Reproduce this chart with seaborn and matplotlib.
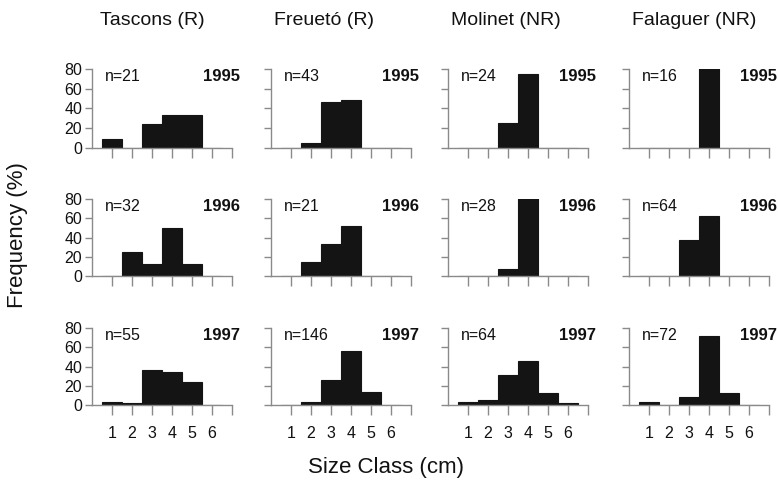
import matplotlib
matplotlib.use("Agg")
import matplotlib.pyplot as plt
import seaborn as sns
import pandas as pd

# ---------------- data ----------------
sites = ["Tascons (R)", "Freuetó (R)", "Molinet (NR)", "Falaguer (NR)"]
years = ["1995", "1996", "1997"]
size_classes = [1, 2, 3, 4, 5, 6]
x_tick_labels = ["1", "2", "3", "4", "5", "6", ""]
y_ticks = [0, 20, 40, 60, 80]

tascons_1995 = [9.5, 0, 23.8, 33.3, 33.3, 0]
tascons_1996 = [0, 25.0, 12.5, 50.0, 12.5, 0]
tascons_1997 = [3.6, 1.8, 36.4, 34.5, 23.6, 0]

freueto_1995 = [0, 4.7, 46.5, 48.8, 0, 0]
freueto_1996 = [0, 14.3, 33.3, 52.4, 0, 0]
freueto_1997 = [0, 3.4, 25.6, 56.2, 14.0, 0]

molinet_1995 = [0, 0, 25.0, 75.0, 0, 0]
molinet_1996 = [0, 0, 7.1, 92.9, 0, 0]
molinet_1997 = [3.1, 4.7, 31.3, 45.3, 12.5, 1.6]

falaguer_1995 = [0, 0, 0, 100.0, 0, 0]
falaguer_1996 = [0, 0, 37.5, 62.5, 0, 0]
falaguer_1997 = [3.5, 0, 8.3, 72.2, 12.5, 0]

tascons_n = [21, 32, 55]
freueto_n = [43, 21, 146]
molinet_n = [24, 28, 64]
falaguer_n = [16, 64, 72]

site_values = [
    [tascons_1995, tascons_1996, tascons_1997],
    [freueto_1995, freueto_1996, freueto_1997],
    [molinet_1995, molinet_1996, molinet_1997],
    [falaguer_1995, falaguer_1996, falaguer_1997],
]
site_n = [tascons_n, freueto_n, molinet_n, falaguer_n]

# ---------------- style ----------------
sns.set_theme(style="white")
plt.rcParams["font.family"] = ["Liberation Sans", "DejaVu Sans"]
axis_col = "#8a8a8a"
bar_col = "#141414"

W, H = 778, 486
fig = plt.figure(figsize=(W / 100, H / 100), dpi=100)
fig.patch.set_facecolor("white")

col_left = [92, 271, 448, 629]
ax_w = 140
row_top = [69, 199, 328]
row_bot = [148, 276, 405]

for c, site in enumerate(sites):
    for r, yr in enumerate(years):
        l = col_left[c] / W
        b = 1 - row_bot[r] / H
        h = (row_bot[r] - row_top[r]) / H
        ax = fig.add_axes([l, b, ax_w / W, h])
        df = pd.DataFrame({"size": size_classes, "freq": site_values[c][r]})
        sns.histplot(data=df, x="size", weights="freq", discrete=True, shrink=1.0,
                     color=bar_col, edgecolor=bar_col, linewidth=0.8, alpha=1.0,
                     ax=ax)
        ax.set_xlim(0, 7)
        ax.set_ylim(0, 80)
        ax.set_xlabel("")
        ax.set_ylabel("")
        ax.set_xticks(range(1, 8))
        ax.set_yticks(y_ticks)
        for s in ["top", "right"]:
            ax.spines[s].set_visible(False)
        for s in ["left", "bottom"]:
            ax.spines[s].set_color(axis_col)
            ax.spines[s].set_linewidth(1.0)
        ax.tick_params(axis="both", which="both", direction="out", color=axis_col,
                       width=1.0, labelsize=11.5, labelcolor="#111111",
                       bottom=True, left=True)
        ax.tick_params(axis="x", length=7, pad=8)
        ax.tick_params(axis="y", length=5, pad=2)
        ax.set_facecolor("none")
        if r == 2:
            ax.set_xticklabels(x_tick_labels)
        else:
            ax.set_xticklabels([])
        if c == 0:
            ax.set_yticklabels([str(v) for v in y_ticks])
        else:
            ax.set_yticklabels([])
        ax.text(0.09, 0.90, f"n={site_n[c][r]}", transform=ax.transAxes,
                ha="left", va="center", fontsize=11.5, color="#111111")
        ax.text(1.06, 0.90, yr, transform=ax.transAxes, ha="right", va="center",
                fontsize=12, fontweight="bold", color="#111111")
        if r == 0:
            ax.text(0.02 if c > 0 else 0.06, 1.62, site, transform=ax.transAxes,
                    ha="left", va="center", fontsize=14, color="#111111")

fig.text(18 / W, 1 - 235 / H, "Frequency (%)", rotation=90, ha="center",
         va="center", fontsize=16, color="#111111")
fig.text(386 / W, 1 - 467 / H, "Size Class (cm)", ha="center", va="center",
         fontsize=16, color="#111111")

fig.savefig("out.png", dpi=100, facecolor="white")
